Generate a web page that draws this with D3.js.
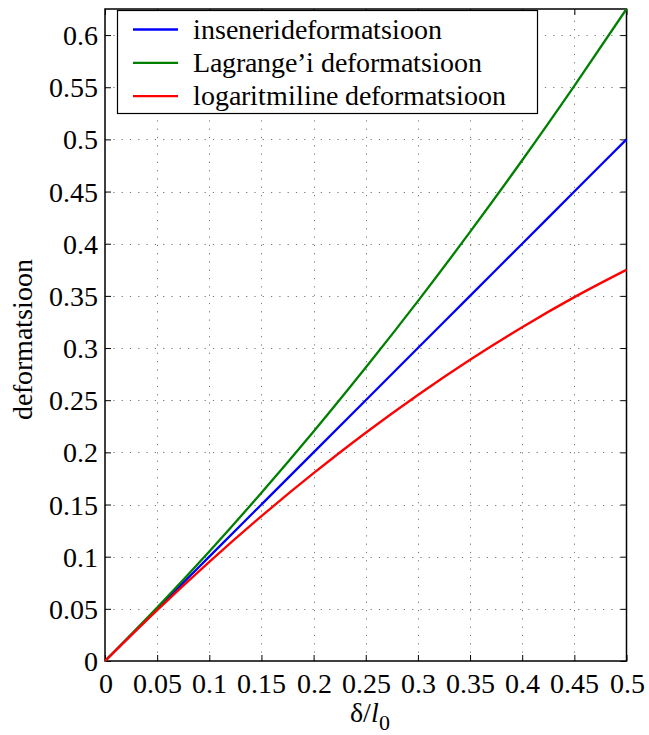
<!DOCTYPE html>
<html>
<head>
<meta charset="utf-8">
<script src="https://cdn.jsdelivr.net/npm/d3@7"></script>
<style>
  @font-face { font-family: "PlotSerif"; src: local("Liberation Serif"), local("LiberationSerif-Regular"), local("Tinos"); font-style: normal; }
  @font-face { font-family: "PlotSerif"; src: local("Liberation Serif Italic"), local("LiberationSerif-Italic"); font-style: italic; }
  #chart svg text, #chart svg tspan { font-family: "PlotSerif", "Liberation Serif", "Times New Roman", serif !important; }
</style>
</head>
<body style="margin:0;background:#fff">
<div id="chart"></div>
<script>
// values
const xValues = [0, 0.05, 0.1, 0.15, 0.2, 0.25, 0.3, 0.35, 0.4, 0.45, 0.5];
const engineering = [0, 0.05, 0.1, 0.15, 0.2, 0.25, 0.3, 0.35, 0.4, 0.45, 0.5];
const lagrange = [0, 0.0513, 0.105, 0.1613, 0.22, 0.2813, 0.345, 0.4113, 0.48, 0.5513, 0.625];
const logarithmic = [0, 0.0488, 0.095, 0.1388, 0.18, 0.2188, 0.255, 0.2888, 0.32, 0.3488, 0.375];

const xTicks = [0, 0.05, 0.1, 0.15, 0.2, 0.25, 0.3, 0.35, 0.4, 0.45, 0.5];
const xTickLabels = ["0", "0.05", "0.1", "0.15", "0.2", "0.25", "0.3", "0.35", "0.4", "0.45", "0.5"];
const yTicks = [0, 0.05, 0.1, 0.15, 0.2, 0.25, 0.3, 0.35, 0.4, 0.45, 0.5, 0.55, 0.6];
const yTickLabels = ["0", "0.05", "0.1", "0.15", "0.2", "0.25", "0.3", "0.35", "0.4", "0.45", "0.5", "0.55", "0.6"];

const seriesNames = ["insenerideformatsioon", "Lagrange\u2019i deformatsioon", "logaritmiline deformatsioon"];
const seriesColors = ["#0000ff", "#008000", "#ff0000"];
const seriesValues = [engineering, lagrange, logarithmic];

const FONT = '"PlotSerif", "Liberation Serif", "Times New Roman", serif';
const width = 649, height = 735;
const margin = { left: 105, right: 22.5, top: 9, bottom: 74 };

const svg = d3.select('#chart').append('svg')
    .attr('width', width)
    .attr('height', height)
    .attr('font-family', FONT);

const x = d3.scaleLinear().domain([0, 0.5]).range([margin.left, width - margin.right]);
const y = d3.scaleLinear().domain([0, 0.625]).range([height - margin.bottom, margin.top]);

const plotW = x(0.5) - x(0);
const plotH = y(0) - y(0.625);

// dotted grid
const grid = svg.append('g').attr('stroke', '#777').attr('stroke-width', 1).attr('stroke-dasharray', '1.2,7.1');
grid.selectAll('.gx').data(xTicks.slice(1, -1)).enter().append('line')
    .attr('x1', d => Math.round(x(d)) + 0.5).attr('x2', d => Math.round(x(d)) + 0.5)
    .attr('y1', y(0)).attr('y2', y(0.625));
grid.selectAll('.gy').data(yTicks.slice(1)).enter().append('line')
    .attr('y1', d => Math.round(y(d)) + 0.5).attr('y2', d => Math.round(y(d)) + 0.5)
    .attr('x1', x(0)).attr('x2', x(0.5));

// axes with inner ticks on all four sides
const fmtX = (d, i) => xTickLabels[i];
const fmtY = (d, i) => yTickLabels[i];

const bottomAxis = svg.append('g')
    .attr('transform', `translate(0,${y(0)})`)
    .call(d3.axisBottom(x).tickValues(xTicks).tickFormat(fmtX).tickSizeInner(-6).tickSizeOuter(0).tickPadding(12));
const leftAxis = svg.append('g')
    .attr('transform', `translate(${x(0)},0)`)
    .call(d3.axisLeft(y).tickValues(yTicks).tickFormat(fmtY).tickSizeInner(-6).tickSizeOuter(0).tickPadding(7));
const topAxis = svg.append('g')
    .attr('transform', `translate(0,${y(0.625)})`)
    .call(d3.axisTop(x).tickValues(xTicks).tickFormat('').tickSizeInner(-6).tickSizeOuter(0));
const rightAxis = svg.append('g')
    .attr('transform', `translate(${x(0.5)},0)`)
    .call(d3.axisRight(y).tickValues(yTicks).tickFormat('').tickSizeInner(-6).tickSizeOuter(0));

[bottomAxis, leftAxis, topAxis, rightAxis].forEach(a => {
    a.attr('font-family', FONT).attr('font-size', 28);
    a.select('.domain').remove();
    a.selectAll('line').attr('stroke', '#000');
    a.selectAll('text').attr('fill', '#000').style('font-family', FONT);
});
bottomAxis.selectAll('text').attr('dy', '0.71em');
leftAxis.selectAll('text').attr('dy', '0.34em');

svg.append('rect')
    .attr('x', x(0)).attr('y', y(0.625))
    .attr('width', plotW).attr('height', plotH)
    .attr('fill', 'none').attr('stroke', '#000').attr('stroke-width', 1.5);

// lines
const line = d3.line()
    .x((d, i) => x(xValues[i]))
    .y(d => y(d))
    .curve(d3.curveMonotoneX);

svg.append('g').selectAll('path')
    .data(seriesValues)
    .enter()
    .append('path')
    .attr('d', d => line(d))
    .attr('fill', 'none')
    .attr('stroke', (d, i) => seriesColors[i])
    .attr('stroke-width', 2.3);

// axis titles
const xTitle = svg.append('text')
    .attr('x', (x(0) + x(0.5)) / 2 + 4)
    .attr('y', 722)
    .attr('text-anchor', 'middle')
    .attr('font-size', 28)
    .style('font-family', FONT);
xTitle.append('tspan').text('\u03b4/');
xTitle.append('tspan').attr('font-style', 'italic').text('l');
xTitle.append('tspan').attr('dy', 8).attr('font-size', 22).text('0');

svg.append('text')
    .attr('transform', `translate(32,${(y(0) + y(0.625)) / 2 + 4}) rotate(-90)`)
    .attr('text-anchor', 'middle')
    .attr('font-size', 28)
    .style('font-family', FONT)
    .text('deformatsioon');

// legend
const legend = svg.append('g');
legend.append('rect')
    .attr('x', 117.5).attr('y', 10.5)
    .attr('width', 420).attr('height', 103)
    .attr('fill', '#fff').attr('stroke', '#000').attr('stroke-width', 1.2);

const items = legend.selectAll('.item')
    .data(seriesNames)
    .enter()
    .append('g')
    .attr('transform', (d, i) => `translate(0,${29.5 + i * 33.3})`);
items.append('line')
    .attr('x1', 133).attr('x2', 178)
    .attr('stroke', (d, i) => seriesColors[i])
    .attr('stroke-width', 2.3);
items.append('text')
    .attr('x', 193)
    .attr('dy', '0.33em')
    .attr('font-size', 28)
    .style('font-family', FONT)
    .text(d => d);
</script>
</body>
</html>
